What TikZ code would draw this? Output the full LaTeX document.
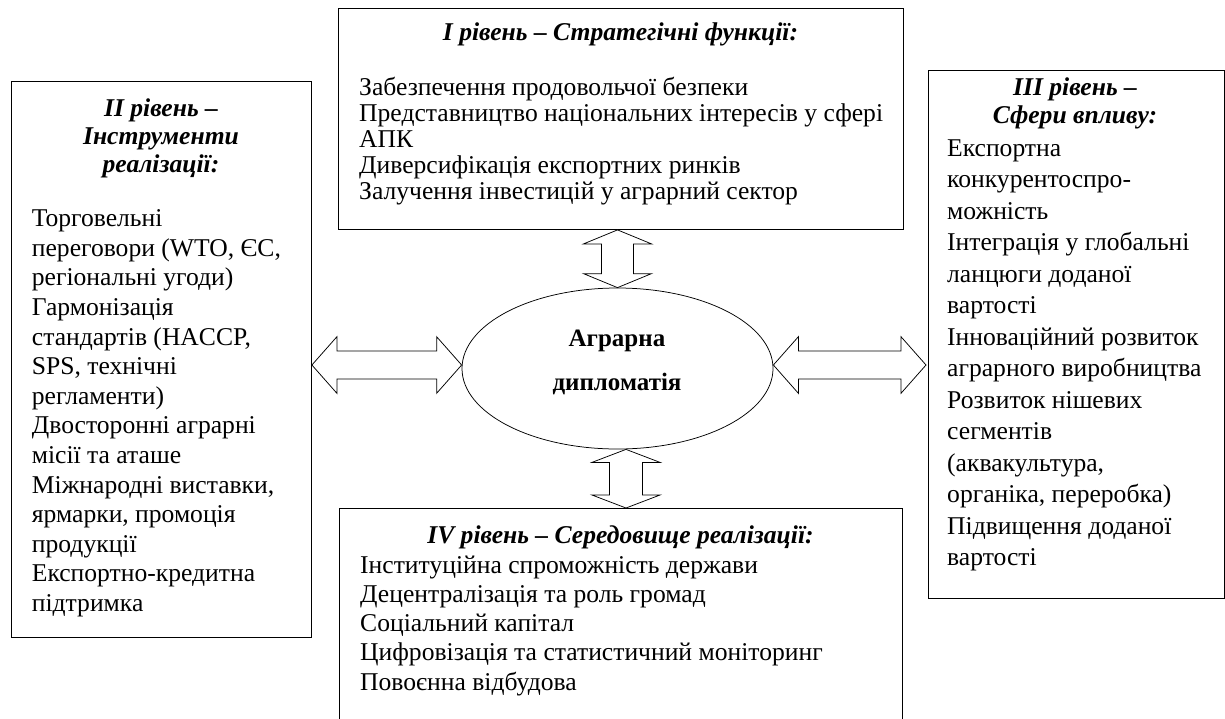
\documentclass[tikz,border=0pt]{standalone}
\usepackage{fontspec}
\setmainfont{Liberation Serif}
\usetikzlibrary{shapes.geometric,calc}
\newcommand{\leftlines}[1]{\vtop{\lineskiplimit=-\maxdimen\lineskip=0pt\halign{##\hfil\cr#1\crcr}}}
\newcommand{\centerlines}[1]{\vtop{\lineskiplimit=-\maxdimen\lineskip=0pt\halign{\hfil##\hfil\cr#1\crcr}}}
\newcommand{\hdbl}[5]{%
  \draw[dblarrow] (#1) -- ($(#1)+(#3,#4)$) -- ($(#1)+(#3,#5)$) -- ($(#2)+(-#3,#5)$) -- ($(#2)+(-#3,#4)$) -- (#2)
    -- ($(#2)+(-#3,-#4)$) -- ($(#2)+(-#3,-#5)$) -- ($(#1)+(#3,-#5)$) -- ($(#1)+(#3,-#4)$) -- cycle;}
\newcommand{\vdbl}[5]{%
  \draw[dblarrow] (#1) -- ($(#1)+(#4,#3)$) -- ($(#1)+(#5,#3)$) -- ($(#2)+(#5,-#3)$) -- ($(#2)+(#4,-#3)$) -- (#2)
    -- ($(#2)+(-#4,-#3)$) -- ($(#2)+(-#5,-#3)$) -- ($(#1)+(-#5,#3)$) -- ($(#1)+(-#4,#3)$) -- cycle;}
\tikzset{
  box/.style={draw, line width=0.9pt, inner sep=0pt, anchor=north west},
  dblarrow/.style={draw, line width=0.75pt, fill=white, line join=miter},
  body/.style={inner sep=0pt, anchor=base west, font=\fontsize{25.6pt}{#1}\selectfont},
  head/.style={inner sep=0pt, anchor=base, font=\fontsize{25.6pt}{#1}\selectfont\bfseries\itshape},
}
\begin{document}
\begin{tikzpicture}[x=1pt,y=-1pt]
\useasboundingbox (0,0) rectangle (1225,718);
\fill[white] (0,0) rectangle (1225,718);
% boxes
\node[box, minimum width=565pt, minimum height=221pt] (T) at (338,8) {};
\node[box, minimum width=300pt, minimum height=556pt] (L) at (11,81) {};
\node[box, minimum width=296pt, minimum height=528pt] (R) at (928,70) {};
\begin{scope}
\clip (0,0) rectangle (1225,718);
\node[box, minimum width=563pt, minimum height=240pt] (B) at (339,508) {};
\end{scope}
% ellipse
\node[draw, ellipse, line width=0.75pt, minimum width=311pt, minimum height=161pt, inner sep=0pt] (E) at (617.5,368.5) {};
\node[inner sep=0pt, anchor=base, font=\fontsize{25pt}{44pt}\selectfont\bfseries] (Et) at (617,346)
  {\centerlines{Аграрна\cr дипломатія}};
% top box text
\node[head=26pt] (Th) at (620.5,40) {I рівень – Стратегічні функції:};
\node[body=26.2pt] (Tb) at (359,95) {\leftlines{Забезпечення продовольчої безпеки\cr
Представництво національних інтересів у сфері\cr
АПК\cr
Диверсифікація експортних ринків\cr
Залучення інвестицій у аграрний сектор}};
% left box text
\node[head=28pt] (Lh) at (161,116.7) {\centerlines{II рівень –\cr Інструменти\cr реалізації:}};
\node[body=29.6pt] (Lb) at (31.7,226.7) {\leftlines{Торговельні\cr
переговори (WTO, ЄС,\cr
регіональні угоди)\cr
Гармонізація\cr
стандартів (HACCP,\cr
SPS, технічні\cr
регламенти)\cr
Двосторонні аграрні\cr
місії та аташе\cr
Міжнародні виставки,\cr
ярмарки, промоція\cr
продукції\cr
Експортно-кредитна\cr
підтримка}};
% right box text
\node[head=28pt] (Rh) at (1075,95) {\centerlines{III рівень –\cr Сфери впливу:}};
\node[body=31.5pt] (Rb) at (947,156) {\leftlines{Експортна\cr
конкурентоспро-\cr
можність\cr
Інтеграція у глобальні\cr
ланцюги доданої\cr
вартості\cr
Інноваційний розвиток\cr
аграрного виробництва\cr
Розвиток нішевих\cr
сегментів\cr
(аквакультура,\cr
органіка, переробка)\cr
Підвищення доданої\cr
вартості}};
% bottom box text
\node[head=28pt] (Bh) at (620.5,543) {IV рівень – Середовище реалізації:};
\node[body=29.3pt] (Bb) at (360,573) {\leftlines{Інституційна спроможність держави\cr
Децентралізація та роль громад\cr
Соціальний капітал\cr
Цифровізація та статистичний моніторинг\cr
Повоєнна відбудова}};
% connectors
\coordinate (lq) at ($(E.west)+(0,-3.5)$);
\coordinate (lp) at (L.east |- lq);
\hdbl{lp}{lq}{25}{28.3}{14}
\coordinate (rp) at ($(E.east)+(0,-3.5)$);
\coordinate (rq) at ($(R.west |- rp)+(-2,0)$);
\hdbl{rp}{rq}{25}{28.3}{14}
\coordinate (tq) at (E.north);
\coordinate (tp) at (T.south -| tq);
\vdbl{tp}{tq}{14}{34}{16}
\coordinate (bp) at ($(E.south)+(8.5,0)$);
\coordinate (bq) at (B.north -| bp);
\vdbl{bp}{bq}{13}{34}{16.5}
\end{tikzpicture}
\end{document}
